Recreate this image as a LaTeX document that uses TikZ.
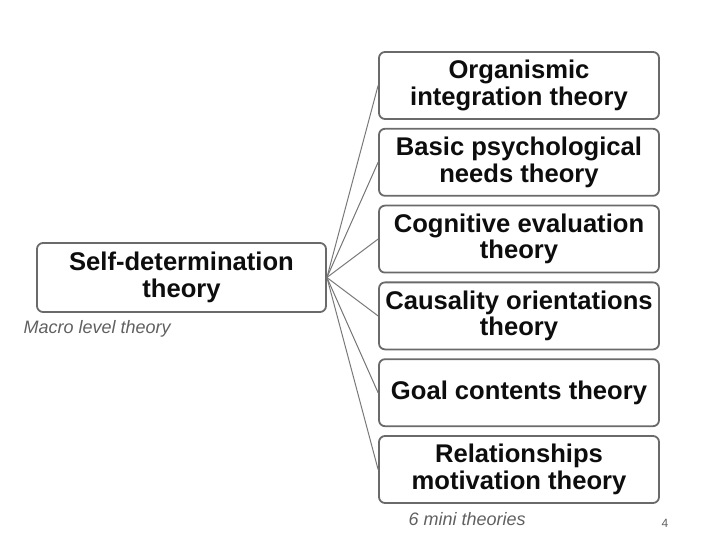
\documentclass[tikz,border=0pt]{standalone}
\usepackage{fontspec}
\setmainfont{Liberation Sans}
\definecolor{boxline}{HTML}{6A6A6A}
\definecolor{linkline}{HTML}{787878}
\definecolor{inkgray}{HTML}{606060}
\begin{document}
\begin{tikzpicture}[x=1pt, y=-1pt, node distance={76.8pt},
  main/.style = {draw=boxline, line width=1.8pt, rounded corners=6pt, fill=white,
    minimum width=280pt, minimum height=67pt, align=center, text=black!95,
    font=\bfseries\fontsize{25.6}{26.5}\selectfont, inner sep=0pt},
  macro/.style = {main, minimum width=289pt, minimum height=69pt},
  link/.style = {draw=linkline, line width=1pt},
  note/.style = {text=inkgray, font=\itshape\fontsize{18}{18}\selectfont, anchor=west}]
\useasboundingbox (0,0) rectangle (720,553);

\node[macro] (sdt) at (181.5,277.5) {Self-determination\\theory};
\node[main] (1) at (519,85.5) {Organismic\\integration theory};
\node[main] (2) [below of=1] {Basic psychological\\needs theory};
\node[main] (3) [below of=2] {Cognitive evaluation\\theory};
\node[main] (4) [below of=3] {Causality orientations\\theory};
\node[main] (5) [below of=4] {Goal contents theory};
\node[main] (6) [below of=5] {Relationships\\motivation theory};

\draw[link] (sdt.east) -- (1.west);
\draw[link] (sdt.east) -- (2.west);
\draw[link] (sdt.east) -- (3.west);
\draw[link] (sdt.east) -- (4.west);
\draw[link] (sdt.east) -- (5.west);
\draw[link] (sdt.east) -- (6.west);

\node[note] (macronote) at (20,329) {Macro level theory};
\node[note] (mininote) at (405,519) {6 mini theories};
\node[text=inkgray, font=\fontsize{12}{12}\selectfont] (page) at (665,523) {4};
\end{tikzpicture}
\end{document}
